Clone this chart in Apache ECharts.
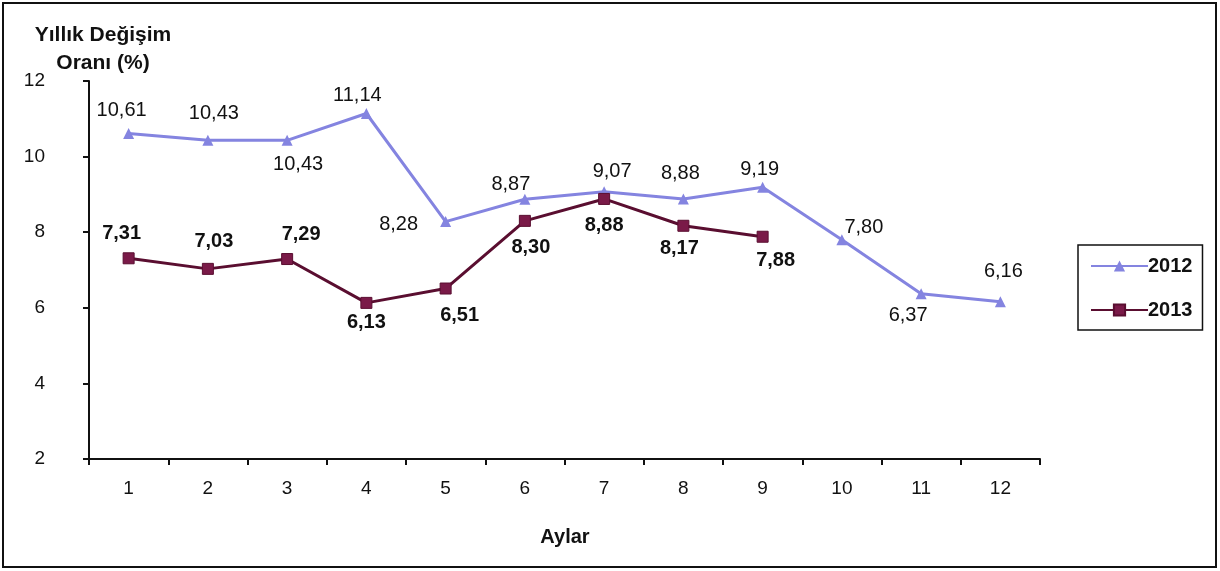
<!DOCTYPE html>
<html lang="tr">
<head>
  <meta charset="UTF-8">
  <title>Yıllık Değişim</title>
  <script src="https://cdn.jsdelivr.net/npm/echarts@6/dist/echarts.min.js"></script>
  <style>
    html,body{margin:0;padding:0;background:#fff}
    #main{width:1220px;height:571px}
  </style>
</head>
<body>
<div id="main"></div>
<script>
  var months = ['1','2','3','4','5','6','7','8','9','10','11','12'];
  var y2012 = [10.61,10.43,10.43,11.14,8.28,8.87,9.07,8.88,9.19,7.80,6.37,6.16];
  var y2013 = [7.31,7.03,7.29,6.13,6.51,8.30,8.88,8.17,7.88];
  // where each value label sits relative to its point (px), as in the original
  var off2012 = [[-7,-23],[6,-27],[11,24],[-9,-18],[-47,3],[-14,-15],[8,-20],[-3,-25],[-3,-18],[22,-12],[-13,22],[3,-30]];
  var off2013 = [[-7,-25],[6,-27],[14,-25],[0,20],[14,27],[6,27],[0,27],[-4,23],[13,24]];

  function fmt(v){ return v.toFixed(2).replace('.',','); }

  function items(vals, off){
    return vals.map(function(v,i){
      return {value:v,label:{position:'inside',offset:off[i]}};
    });
  }

  var chart = echarts.init(document.getElementById('main'));
  chart.setOption({
    animation:false,
    textStyle:{fontFamily:'Liberation Sans'},
    grid:{left:89,right:180,top:81,bottom:112},
    graphic:[
      {type:'rect',shape:{x:3,y:3,width:1213,height:564},style:{fill:'none',stroke:'#111',lineWidth:2}},
      {type:'text',x:103,y:35,style:{text:'Yıllık Değişim',font:'bold 21px Liberation Sans',fill:'#111',textAlign:'center',textVerticalAlign:'middle'}},
      {type:'text',x:103,y:63,style:{text:'Oranı (%)',font:'bold 21px Liberation Sans',fill:'#111',textAlign:'center',textVerticalAlign:'middle'}},
      {type:'text',x:565,y:537,style:{text:'Aylar',font:'bold 20px Liberation Sans',fill:'#111',textAlign:'center',textVerticalAlign:'middle'}}
    ],
    legend:{
      orient:'vertical',left:1078,top:245,
      padding:[11,10,10,12],itemGap:24,itemWidth:57,itemHeight:14,
      borderColor:'#111',borderWidth:1.5,
      textStyle:{fontSize:20,fontWeight:'bold',color:'#111',lineHeight:20,padding:[0,0,0,-5]},
      data:['2012','2013']
    },
    xAxis:{
      type:'category',data:months,boundaryGap:true,
      axisLine:{lineStyle:{color:'#111',width:2}},
      axisTick:{show:true,length:6,inside:false,lineStyle:{color:'#111',width:2}},
      axisLabel:{color:'#111',fontSize:19,margin:20}
    },
    yAxis:{
      type:'value',min:2,max:12,interval:2,
      axisLine:{show:true,lineStyle:{color:'#111',width:2}},
      axisTick:{show:true,length:6,lineStyle:{color:'#111',width:2}},
      splitLine:{show:false},
      axisLabel:{color:'#111',fontSize:19,margin:44}
    },
    series:[
      {
        name:'2012',type:'line',data:items(y2012,off2012),
        symbol:'triangle',symbolSize:11,
        lineStyle:{color:'#8484E0',width:3},
        itemStyle:{color:'#8484E0'},
        label:{show:true,fontSize:20,color:'#111',formatter:function(p){return fmt(p.value);}}
      },
      {
        name:'2013',type:'line',data:items(y2013,off2013),
        symbol:'rect',symbolSize:11,
        lineStyle:{color:'#5A0E30',width:3},
        itemStyle:{color:'#7A1A48',borderColor:'#5A0E30',borderWidth:1},
        label:{show:true,fontSize:20,fontWeight:'bold',color:'#111',formatter:function(p){return fmt(p.value);}}
      }
    ]
  });
</script>
</body>
</html>
